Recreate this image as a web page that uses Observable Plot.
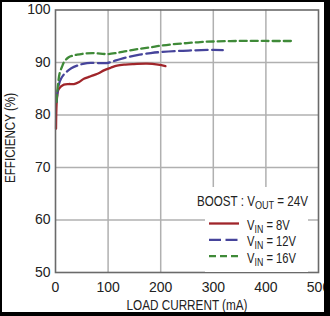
<!DOCTYPE html>
<html><head><meta charset="utf-8">
<script src="https://cdn.jsdelivr.net/npm/d3@7"></script>
<script src="https://cdn.jsdelivr.net/npm/@observablehq/plot@0.6"></script>
<style>
html,body{margin:0;padding:0;background:#000;width:330px;height:316px;overflow:hidden}
#card{position:absolute;left:2px;top:2px;width:322px;height:310px;background:#fff;overflow:hidden}
</style></head><body><div id="card"></div>
<script>
// Tick values
const xTicks = [0, 100, 200, 300, 400, 500];
const yTicks = [50, 60, 70, 80, 90, 100];

// Series: VIN = 8V
const cur8 = [1, 2, 4, 6, 10, 16, 25, 35, 45, 54, 65, 73, 83, 92, 105, 117, 133, 149, 174, 195, 209];
const eff8 = [77.4, 82, 84.3, 84.9, 85.4, 85.8, 85.9, 85.9, 86.3, 86.9, 87.3, 87.6, 88.0, 88.5, 89.0, 89.4, 89.6, 89.7, 89.8, 89.6, 89.3];
// Series: VIN = 12V
const cur12 = [2, 4, 7, 10, 15, 22, 30, 41, 60, 80, 98, 115, 136, 160, 181, 200, 230, 260, 300, 318];
const eff12 = [82.5, 84.5, 86, 86.8, 87.6, 88.3, 88.9, 89.4, 89.9, 89.9, 89.9, 90.4, 91.0, 91.5, 91.8, 92.0, 92.2, 92.3, 92.4, 92.35];
// Series: VIN = 16V
const cur16 = [2, 3, 5, 8, 12, 17, 25, 33, 41, 55, 70, 85, 98, 115, 136, 160, 181, 200, 225, 250, 275, 300, 350, 400, 450];
const eff16 = [82.5, 84, 86, 88, 89.1, 90.2, 91.0, 91.3, 91.5, 91.7, 91.8, 91.7, 91.6, 91.8, 92.2, 92.6, 92.9, 93.2, 93.5, 93.7, 93.9, 94.0, 94.1, 94.1, 94.1];

const seriesVin = ["8V", "12V", "16V"];
const seriesColor = ["#a0252a", "#46449b", "#3f8a38"];
const seriesDash = [null, "12,4.5", "7,4"];

const rows = (xs, ys) => xs.map((x, i) => ({current: x, eff: ys[i]}));
const sets = [rows(cur8, eff8), rows(cur12, eff12), rows(cur16, eff16)];

const REG = "'Liberation Sans',Arial,sans-serif";

const chart = Plot.plot({
  width: 322, height: 310,
  marginLeft: 53, marginTop: 7.5, marginRight: 6, marginBottom: 40,
  style: {fontFamily: REG, fontSize: "14px", color: "#222", background: "#fff", overflow: "visible"},
  x: {domain: [0, 500]},
  y: {domain: [50, 100]},
  marks: [
    Plot.gridX(xTicks.slice(1, -1), {stroke: "#b0b0b0", strokeOpacity: 1, strokeWidth: 1.5}),
    Plot.gridY(yTicks.slice(1, -1), {stroke: "#b0b0b0", strokeOpacity: 1, strokeWidth: 1.5}),
    ...sets.map((d, i) => Plot.line(d, {
      x: "current", y: "eff", stroke: seriesColor[i], strokeWidth: 2.3,
      strokeDasharray: seriesDash[i] || undefined, curve: "catmull-rom"
    })),
    Plot.frame({stroke: "#6a6a6a", strokeWidth: 1.6}),
    Plot.axisX(xTicks, {tickSize: 0, tickPadding: 10, fontSize: 14, label: null, fill: "#222"}),
    Plot.axisY(yTicks, {tickSize: 0, tickPadding: 5, fontSize: 14, label: null, fill: "#222"})
  ]
});
document.getElementById("card").appendChild(chart);

const svg = d3.select(chart);
// axis titles (condensed lettering)
svg.append("text").attr("x", 185).attr("y", 308).attr("text-anchor", "middle")
  .attr("textLength", 121).attr("lengthAdjust", "spacingAndGlyphs")
  .style("font-family", REG).style("font-size", "14px").attr("fill", "#222")
  .text("LOAD CURRENT (mA)");
svg.append("text").attr("transform", "translate(13,136) rotate(-90)").attr("text-anchor", "middle")
  .attr("textLength", 90).attr("lengthAdjust", "spacingAndGlyphs")
  .style("font-family", REG).style("font-size", "14px").attr("fill", "#222")
  .text("EFFICIENCY (%)");

// legend
const lg = svg.append("g").style("font-family", REG).attr("fill", "#222").attr("text-anchor", "start");
lg.append("rect").attr("x", 194).attr("y", 185).attr("width", 121).attr("height", 26).attr("fill", "#fff");
lg.append("rect").attr("x", 203).attr("y", 210).attr("width", 103).attr("height", 60).attr("fill", "#fff");
const t0 = lg.append("g").attr("transform", "translate(195,204) scale(0.83,1)")
  .append("text").attr("text-anchor", "start").style("font-size", "14px");
t0.append("tspan").text("BOOST : V");
t0.append("tspan").attr("dy", 3).style("font-size", "11px").text("OUT");
t0.append("tspan").attr("dy", -3).text(" = 24V");

seriesVin.forEach((v, i) => {
  const ly = 221.5 + i * 16.3;
  lg.append("line").attr("x1", 207).attr("x2", 237).attr("y1", ly).attr("y2", ly)
    .attr("stroke", seriesColor[i]).attr("stroke-width", 2.3)
    .attr("stroke-dasharray", seriesDash[i]);
  const t = lg.append("g").attr("transform", `translate(245,${ly + 6.5}) scale(0.8,1)`)
    .append("text").attr("text-anchor", "start").style("font-size", "14px");
  t.append("tspan").text("V");
  t.append("tspan").attr("dy", 3).style("font-size", "11px").text("IN");
  t.append("tspan").attr("dy", -3).text(" = " + v);
});
</script></body></html>
